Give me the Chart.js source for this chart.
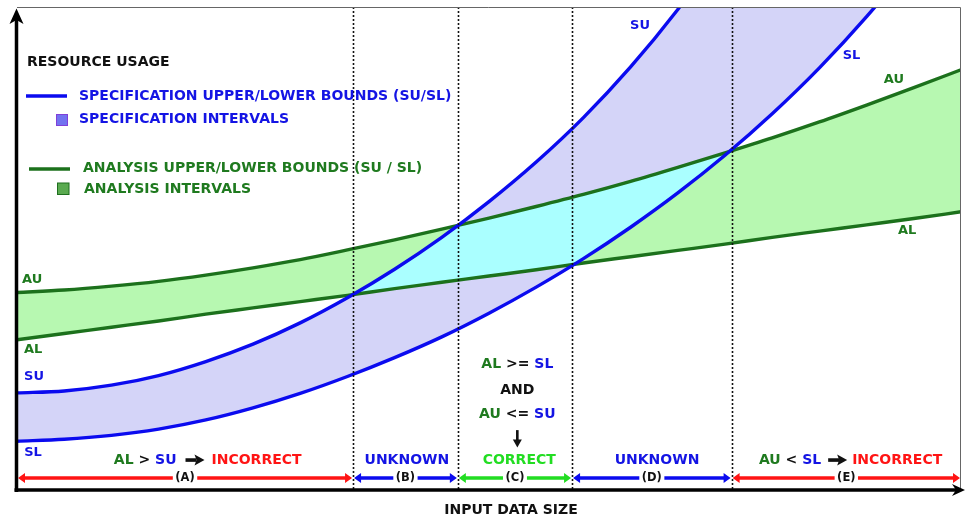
<!DOCTYPE html>
<html>
<head>
<meta charset="utf-8">
<script src="https://cdn.jsdelivr.net/npm/chart.js@4/dist/chart.umd.min.js"></script>
<style>
  html, body { margin: 0; padding: 0; background: #ffffff; }
  #wrap { width: 965px; height: 516px; }
</style>
</head>
<body>
<div id="wrap"><canvas id="chart" width="965" height="516"></canvas></div>
<script>
// Input data size (arbitrary units) at which the bounds are sampled
const inputSize = [0, 5, 10, 15, 20, 25, 30, 35, 40, 45, 50, 55, 60, 65, 70, 75, 80, 85, 90, 95, 100];

// Specification upper / lower bounds (SU / SL) of resource usage
const specUpper = [20.1, 20.5, 21.7, 23.7, 26.6, 30.2, 34.6, 39.8, 45.7, 52.3, 59.7, 67.9, 77.1, 87.6, 99.5, 112.9, 127.9, 144.6, 163.1, 183.5, 205.9];
const specLower = [10.1, 10.5, 11.3, 12.6, 14.5, 17.0, 20.0, 23.5, 27.4, 31.7, 36.6, 42.0, 47.9, 54.4, 61.5, 69.3, 77.9, 87.4, 98.0, 109.8, 123.0];

// Analysis upper / lower bounds (AU / AL) of resource usage
const analysisUpper = [40.9, 41.4, 42.2, 43.2, 44.5, 46.0, 47.7, 49.7, 51.8, 54.0, 56.3, 58.7, 61.2, 63.9, 66.8, 69.8, 72.9, 76.2, 79.7, 83.3, 87.0];
const analysisLower = [31.1, 32.4, 33.7, 35.0, 36.4, 37.7, 39.0, 40.3, 41.7, 43.0, 44.3, 45.6, 47.0, 48.3, 49.6, 50.9, 52.3, 53.6, 54.9, 56.2, 57.6];

// Input sizes where the bounds cross: borders between the regions (A)..(E)
const regionBorders = [35.6, 46.7, 58.8, 75.7];
const regionTags = ['(A)', '(B)', '(C)', '(D)', '(E)'];
const regionVerdicts = ['INCORRECT', 'UNKNOWN', 'CORRECT', 'UNKNOWN', 'INCORRECT'];

// ---- styling ----
const COL = {
  blue: '#0b0bef',
  blueText: '#1414e4',
  green: '#1c711c',
  greenText: '#1f7a1f',
  red: '#ff1414',
  bright: '#22dd22',
  black: '#111111',
  specFill: '#d4d4f8',
  anaFill: '#b7f8b1',
  overlap: '#aaffff'
};
const FONT = 'bold 14px "DejaVu Sans", sans-serif';
const LABEL_FONT = 'bold 13px "DejaVu Sans", sans-serif';
const TAG_FONT = 'bold 11.5px "DejaVu Sans", sans-serif';

// annotation placement (data units of the two axes)
const notes = {
  rowY: 6.2,
  arrowY: 2.5,
  verdictX: [20.2, 41.3, 53.2, 67.8, 88.3],
  stackX: 53.0,
  stackY: [26.0, 20.7, 15.7],
  pointerY: [12.4, 8.8]
};
const curveTags = [
  { t: 'SU', x: 66.0, y: 96.1, c: COL.blueText },
  { t: 'SL', x: 88.4, y: 90.0, c: COL.blueText },
  { t: 'AU', x: 92.9, y: 84.9, c: COL.greenText },
  { t: 'AL', x: 94.3, y: 53.6, c: COL.greenText },
  { t: 'AU', x: 1.6, y: 43.5, c: COL.greenText },
  { t: 'AL', x: 1.7, y: 29.0, c: COL.greenText },
  { t: 'SU', x: 1.8, y: 23.4, c: COL.blueText },
  { t: 'SL', x: 1.7, y: 7.7, c: COL.blueText }
];

const pts = arr => inputSize.map((x, i) => ({ x: x, y: arr[i] }));

// path of a tensioned line through its point elements (forward or backward)
function traceCurve(ctx, points, reverse) {
  const n = points.length;
  for (let k = 0; k < n; k++) {
    const i = reverse ? n - 1 - k : k;
    const p = points[i];
    if (k === 0) { ctx.lineTo(p.x, p.y); continue; }
    const q = points[reverse ? i + 1 : i - 1];
    if (q.cp1x === undefined) { ctx.lineTo(p.x, p.y); continue; }
    if (reverse) ctx.bezierCurveTo(q.cp1x, q.cp1y, p.cp2x, p.cp2y, p.x, p.y);
    else ctx.bezierCurveTo(q.cp2x, q.cp2y, p.cp1x, p.cp1y, p.x, p.y);
  }
}

function rightArrow(ctx, x0, x1, y, color) {
  ctx.fillStyle = color;
  ctx.fillRect(x0, y - 1.8, (x1 - x0) - 8, 3.6);
  ctx.beginPath();
  ctx.moveTo(x1, y);
  ctx.lineTo(x1 - 10, y - 5.5);
  ctx.lineTo(x1 - 8, y);
  ctx.lineTo(x1 - 10, y + 5.5);
  ctx.closePath();
  ctx.fill();
}

// text made of coloured pieces, centred at cx
function richText(ctx, parts, cx, cy) {
  ctx.font = FONT;
  ctx.textAlign = 'left';
  ctx.textBaseline = 'middle';
  const widths = parts.map(p => p.arrow || p.gap || ctx.measureText(p[0]).width);
  const total = widths.reduce((a, b) => a + b, 0);
  let x = cx - total / 2;
  parts.forEach((p, i) => {
    if (p.arrow) rightArrow(ctx, x, x + p.arrow, cy, COL.black);
    else if (!p.gap) { ctx.fillStyle = p[1]; ctx.fillText(p[0], x, cy); }
    x += widths[i];
  });
}

const diagramPlugin = {
  id: 'diagram',
  // cyan where the specification and analysis intervals overlap
  beforeDatasetsDraw(chart) {
    const ctx = chart.ctx, a = chart.chartArea;
    const su = chart.getDatasetMeta(0).data, sl = chart.getDatasetMeta(1).data;
    const au = chart.getDatasetMeta(2).data, al = chart.getDatasetMeta(3).data;
    ctx.save();
    ctx.beginPath();
    ctx.rect(a.left, a.top, a.right - a.left, a.bottom - a.top);
    ctx.clip();
    ctx.beginPath();
    traceCurve(ctx, su, false);
    traceCurve(ctx, sl, true);
    ctx.closePath();
    ctx.clip();
    ctx.beginPath();
    traceCurve(ctx, au, false);
    traceCurve(ctx, al, true);
    ctx.closePath();
    ctx.fillStyle = COL.overlap;
    ctx.fill();
    ctx.restore();
  },
  // dotted region borders
  afterDatasetsDraw(chart) {
    const ctx = chart.ctx, a = chart.chartArea, xs = chart.scales.x;
    ctx.save();
    ctx.strokeStyle = COL.black;
    ctx.lineWidth = 1.6;
    ctx.setLineDash([2, 2]);
    regionBorders.forEach(b => {
      const px = Math.round(xs.getPixelForValue(b)) + 0.5;
      ctx.beginPath();
      ctx.moveTo(px, a.top);
      ctx.lineTo(px, a.bottom);
      ctx.stroke();
    });
    ctx.restore();
  },
  afterDraw(chart) {
    const ctx = chart.ctx, a = chart.chartArea;
    const xs = chart.scales.x, ys = chart.scales.y;
    const X = v => xs.getPixelForValue(v), Y = v => ys.getPixelForValue(v);
    ctx.save();

    // frame
    ctx.strokeStyle = '#666666';
    ctx.lineWidth = 1;
    ctx.beginPath();
    ctx.moveTo(a.left, a.top + 0.5);
    ctx.lineTo(a.right - 0.5, a.top + 0.5);
    ctx.lineTo(a.right - 0.5, a.bottom);
    ctx.stroke();

    // axes with arrow heads
    ctx.strokeStyle = '#000000';
    ctx.fillStyle = '#000000';
    ctx.lineWidth = 3.5;
    ctx.beginPath();
    ctx.moveTo(a.left - 0.5, a.bottom + 2);
    ctx.lineTo(a.left - 0.5, a.top + 12);
    ctx.stroke();
    ctx.beginPath();
    ctx.moveTo(a.left - 0.5, a.top + 1.5);
    ctx.lineTo(a.left - 7.5, a.top + 17);
    ctx.lineTo(a.left - 0.5, a.top + 13);
    ctx.lineTo(a.left + 6.5, a.top + 17);
    ctx.closePath();
    ctx.fill();

    ctx.beginPath();
    ctx.moveTo(a.left - 2.5, a.bottom);
    ctx.lineTo(a.right - 4, a.bottom);
    ctx.stroke();
    ctx.beginPath();
    ctx.moveTo(a.right + 4, a.bottom);
    ctx.lineTo(a.right - 9, a.bottom - 6);
    ctx.lineTo(a.right - 5, a.bottom);
    ctx.lineTo(a.right - 9, a.bottom + 6);
    ctx.closePath();
    ctx.fill();

    // axis titles
    ctx.font = FONT;
    ctx.textBaseline = 'middle';
    ctx.textAlign = 'left';
    ctx.fillStyle = COL.black;
    ctx.fillText('RESOURCE USAGE', a.left + 10, 62);
    ctx.textAlign = 'center';
    ctx.fillText('INPUT DATA SIZE', (a.left + a.right) / 2 + 22, 510);

    // legend
    ctx.textAlign = 'left';
    ctx.lineWidth = 3.5;
    ctx.strokeStyle = COL.blue;
    ctx.beginPath(); ctx.moveTo(26, 96); ctx.lineTo(67, 96); ctx.stroke();
    ctx.fillStyle = COL.blueText;
    ctx.fillText('SPECIFICATION UPPER/LOWER BOUNDS (SU/SL)', 79, 96.5);
    ctx.fillStyle = '#7272f0';
    ctx.fillRect(56.5, 114.5, 11, 11);
    ctx.lineWidth = 1;
    ctx.strokeStyle = '#8040d8';
    ctx.strokeRect(56.5, 114.5, 11, 11);
    ctx.fillStyle = COL.blueText;
    ctx.fillText('SPECIFICATION INTERVALS', 79, 119.5);

    ctx.lineWidth = 3.5;
    ctx.strokeStyle = COL.green;
    ctx.beginPath(); ctx.moveTo(29, 169); ctx.lineTo(70, 169); ctx.stroke();
    ctx.fillStyle = COL.greenText;
    ctx.fillText('ANALYSIS UPPER/LOWER BOUNDS (SU / SL)', 83, 168.5);
    ctx.fillStyle = '#5aaa50';
    ctx.fillRect(57.5, 183, 11.5, 11.5);
    ctx.lineWidth = 1;
    ctx.strokeStyle = '#1f6f1f';
    ctx.strokeRect(57.5, 183, 11.5, 11.5);
    ctx.fillStyle = COL.greenText;
    ctx.fillText('ANALYSIS INTERVALS', 84, 189);

    // curve names
    ctx.font = LABEL_FONT;
    ctx.textAlign = 'center';
    curveTags.forEach(t => { ctx.fillStyle = t.c; ctx.fillText(t.t, X(t.x), Y(t.y)); });

    // region arrows with tags
    const regionColors = [COL.red, COL.blue, COL.bright, COL.blue, COL.red];
    const edges = [xs.min].concat(regionBorders, [xs.max]);
    const ay = Y(notes.arrowY);
    ctx.font = TAG_FONT;
    edges.slice(0, -1).forEach((e, i) => {
      const x0 = X(e) + 1, x1 = X(edges[i + 1]) - 1;
      const mid = (x0 + x1) / 2;
      const w = ctx.measureText(regionTags[i]).width;
      ctx.strokeStyle = regionColors[i];
      ctx.fillStyle = regionColors[i];
      ctx.lineWidth = 3.5;
      ctx.beginPath();
      ctx.moveTo(x0 + 5, ay); ctx.lineTo(mid - w / 2 - 2.5, ay);
      ctx.moveTo(mid + w / 2 + 2.5, ay); ctx.lineTo(x1 - 5, ay);
      ctx.stroke();
      ctx.beginPath();
      ctx.moveTo(x0, ay); ctx.lineTo(x0 + 7, ay - 5); ctx.lineTo(x0 + 7, ay + 5); ctx.closePath();
      ctx.moveTo(x1, ay); ctx.lineTo(x1 - 7, ay - 5); ctx.lineTo(x1 - 7, ay + 5); ctx.closePath();
      ctx.fill();
      ctx.fillStyle = COL.black;
      ctx.fillText(regionTags[i], mid, ay + 0.5);
    });

    // verdicts above the arrows
    const ry = Y(notes.rowY);
    const vColors = [COL.red, COL.blueText, COL.bright, COL.blueText, COL.red];
    regionVerdicts.forEach((v, i) => {
      let parts;
      if (i === 0) parts = [['AL', COL.greenText], [' > ', COL.black], ['SU', COL.blueText], { gap: 9 }, { arrow: 19 }, { gap: 7 }, [v, vColors[i]]];
      else if (i === 4) parts = [['AU', COL.greenText], [' < ', COL.black], ['SL', COL.blueText], { gap: 7 }, { arrow: 19 }, { gap: 5 }, [v, vColors[i]]];
      else parts = [[v, vColors[i]]];
      richText(ctx, parts, X(notes.verdictX[i]), ry);
    });

    // condition for the correct region
    const sx = X(notes.stackX);
    richText(ctx, [['AL', COL.greenText], [' >= ', COL.black], ['SL', COL.blueText]], sx, Y(notes.stackY[0]));
    richText(ctx, [['AND', COL.black]], sx, Y(notes.stackY[1]));
    richText(ctx, [['AU', COL.greenText], [' <= ', COL.black], ['SU', COL.blueText]], sx, Y(notes.stackY[2]));
    const p0 = Y(notes.pointerY[0]), p1 = Y(notes.pointerY[1]);
    ctx.fillStyle = COL.black;
    ctx.fillRect(sx - 1.3, p0, 2.6, (p1 - p0) - 6);
    ctx.beginPath();
    ctx.moveTo(sx, p1); ctx.lineTo(sx - 4.5, p1 - 8); ctx.lineTo(sx + 4.5, p1 - 8); ctx.closePath();
    ctx.fill();

    ctx.restore();
  }
};

const lineStyle = {
  pointRadius: 0,
  borderWidth: 3.4,
  cubicInterpolationMode: 'monotone'
};

new Chart(document.getElementById('chart'), {
  type: 'line',
  data: {
    datasets: [
      Object.assign({ label: 'SU', data: pts(specUpper), borderColor: COL.blue, backgroundColor: COL.specFill, fill: { target: 1 } }, lineStyle),
      Object.assign({ label: 'SL', data: pts(specLower), borderColor: COL.blue, fill: false }, lineStyle),
      Object.assign({ label: 'AU', data: pts(analysisUpper), borderColor: COL.green, backgroundColor: COL.anaFill, fill: { target: 3 } }, lineStyle),
      Object.assign({ label: 'AL', data: pts(analysisLower), borderColor: COL.green, fill: false }, lineStyle)
    ]
  },
  options: {
    responsive: false,
    devicePixelRatio: 1,
    animation: false,
    events: [],
    layout: { padding: { left: 17, right: 4, top: 7, bottom: 26 } },
    elements: { line: { capBezierPoints: false } },
    scales: {
      x: { type: 'linear', min: 0, max: 100, display: false },
      y: { type: 'linear', min: 0, max: 100, display: false }
    },
    plugins: {
      legend: { display: false },
      tooltip: { enabled: false },
      filler: { drawTime: 'beforeDatasetsDraw' }
    }
  },
  plugins: [diagramPlugin]
});
</script>
</body>
</html>
